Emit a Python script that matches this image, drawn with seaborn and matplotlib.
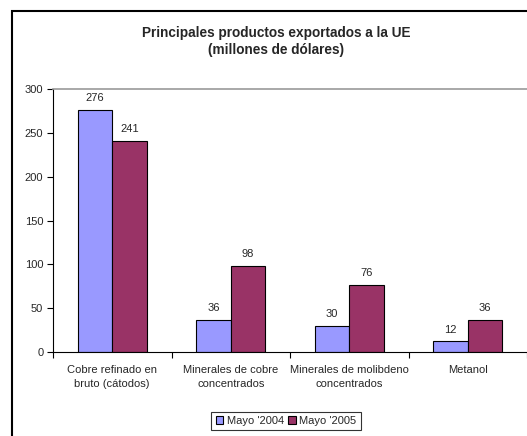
import matplotlib
matplotlib.use("Agg")
import matplotlib.pyplot as plt
import seaborn as sns
import pandas as pd
from matplotlib.patches import Rectangle
from matplotlib.ticker import FixedLocator

categories = ["Cobre refinado en\nbruto (cátodos)", "Minerales de cobre\nconcentrados",
              "Minerales de molibdeno\nconcentrados", "Metanol"]
series_names = ["Mayo '2004", "Mayo '2005"]
values_2004 = [276, 36, 30, 12]
values_2005 = [241, 98, 76, 36]
colors = ["#9999FF", "#993366"]

df = pd.DataFrame({
    "cat": categories * 2,
    "serie": [series_names[0]] * 4 + [series_names[1]] * 4,
    "val": values_2004 + values_2005,
})

sns.set_style("white")
plt.rcParams["font.family"] = ["Liberation Sans", "DejaVu Sans"]

fig = plt.figure(figsize=(5.27, 4.36), dpi=100)
ax = fig.add_axes([53/527, (436-352)/436, 1 - 53/527, (352-89)/436])

sns.barplot(data=df, x="cat", y="val", hue="serie", palette=colors, width=0.58,
            edgecolor="black", linewidth=0.8, ax=ax, saturation=1)

for c in ax.containers:
    ax.bar_label(c, fmt="%d", padding=5, fontsize=8)

ax.set_ylim(0, 300)
ax.set_xlim(-0.5, 3.5)
ax.set_yticks(range(0, 301, 50))
ax.tick_params(axis="y", labelsize=8, length=4, width=0.8, direction="out", left=True, color="black", pad=3)
ax.tick_params(axis="x", which="major", length=0, labelsize=8, pad=9)
for lbl in ax.get_xticklabels():
    lbl.set_linespacing(1.55)
ax.xaxis.set_minor_locator(FixedLocator([-0.5, 0.5, 1.5, 2.5, 3.5]))
ax.tick_params(axis="x", which="minor", length=4, width=0.8, direction="out", bottom=True, color="black")
ax.set_xlabel("")
ax.set_ylabel("")

for s in ["left", "bottom"]:
    ax.spines[s].set_color("black")
    ax.spines[s].set_linewidth(0.8)
ax.spines["top"].set_color("#999999")
ax.spines["top"].set_linewidth(1.2)
ax.spines["right"].set_visible(False)

leg = ax.legend(loc="center", bbox_to_anchor=(286/527, (436-421)/436), bbox_transform=fig.transFigure,
                ncol=2, fontsize=8, frameon=True, fancybox=False, edgecolor="black",
                handlelength=0.7, handleheight=0.7, handletextpad=0.3, columnspacing=0.4,
                borderpad=0.4, borderaxespad=0)
leg.get_frame().set_linewidth(0.8)

fig.text(276/527, 1 - 33/436, "Principales productos exportados a la UE", ha="center", va="center",
         fontsize=9.8, fontweight="bold")
fig.text(276/527, 1 - 50/436, "(millones de dólares)", ha="center", va="center",
         fontsize=9.8, fontweight="bold")

fig.patches.append(Rectangle((12/527, -0.1), 2, 1.1 - 11/436, transform=fig.transFigure,
                             fill=False, edgecolor="black", linewidth=1.5))

fig.savefig("out.png", dpi=100)
